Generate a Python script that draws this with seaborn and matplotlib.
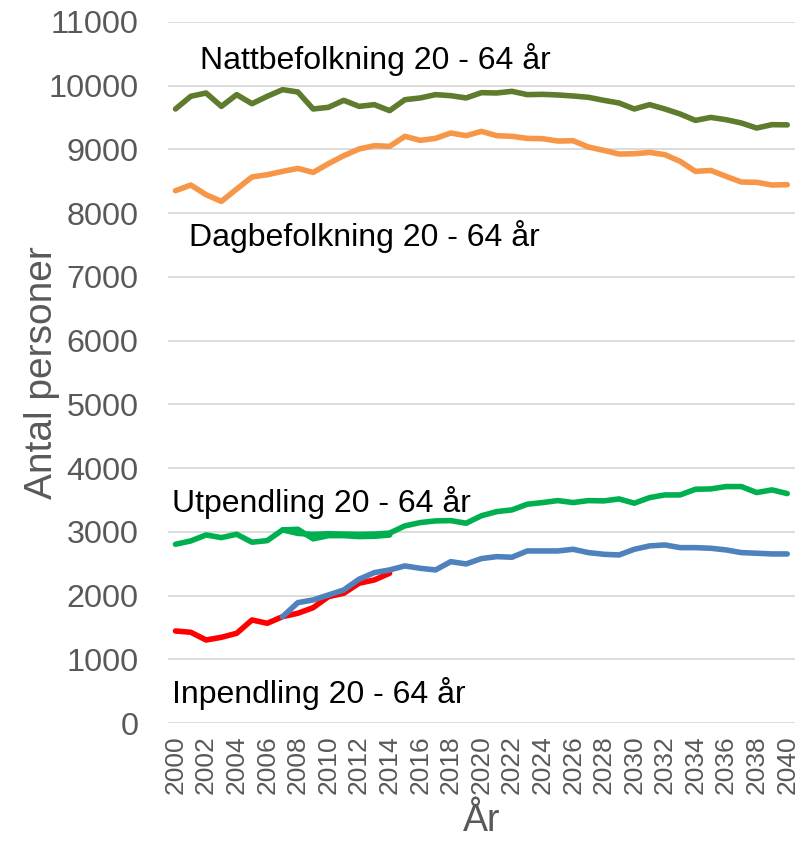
import numpy as np
import pandas as pd
import matplotlib
matplotlib.use("Agg")
import matplotlib.pyplot as plt
import seaborn as sns

# ---- data ----
years_all = list(range(2000, 2041))
years_hist = list(range(2000, 2015))
years_proj = list(range(2007, 2041))

natt = [9634, 9833, 9885, 9675, 9859, 9717, 9833, 9937, 9901, 9634, 9660,
        9770, 9675, 9702, 9608, 9780, 9807, 9859, 9843, 9807, 9890,
        9885, 9911, 9859, 9864, 9854, 9838, 9817, 9770, 9728, 9634,
        9702, 9634, 9555, 9455, 9502, 9466, 9414, 9335, 9388, 9385]
dag = [8352, 8441, 8289, 8184, 8378, 8567, 8603, 8655, 8702, 8639, 8776,
       8901, 9006, 9058, 9048, 9205, 9142, 9173, 9257, 9215, 9283,
       9215, 9205, 9173, 9168, 9131, 9136, 9037, 8985, 8927, 8932,
       8953, 8917, 8812, 8655, 8670, 8577, 8488, 8483, 8441, 8446]
ut_hist = [2805, 2857, 2951, 2909, 2962, 2837, 2862, 3030, 3040, 2890,
           2940, 2940, 2925, 2930, 2950]
ut_proj = [3030, 2975, 2960, 2970, 2965, 2960, 2965, 2980,
           3093, 3145, 3171, 3176, 3135, 3252,
           3317, 3344, 3433, 3459, 3490, 3459, 3490, 3485, 3516, 3449,
           3537, 3579, 3579, 3668, 3673, 3710, 3710, 3616, 3658, 3600]
in_hist = [1444, 1424, 1303, 1345, 1408, 1617, 1565, 1669, 1722, 1810,
           1983, 2036, 2193, 2245, 2350]
in_proj = [1669, 1889, 1931, 2009, 2088, 2256, 2360, 2402,
           2465, 2428, 2402, 2532, 2496, 2580,
           2611, 2601, 2700, 2700, 2700, 2726, 2674, 2648, 2637, 2726,
           2779, 2794, 2752, 2752, 2742, 2716, 2674, 2664, 2653, 2653]

labels = ["Nattbefolkning 20 - 64 år", "Dagbefolkning 20 - 64 år",
          "Utpendling 20 - 64 år", "Inpendling 20 - 64 år"]
yticks = list(range(0, 11001, 1000))
xticks = list(range(2000, 2041, 2))

series = [
    (years_all, natt, "#5E7B2E"),
    (years_all, dag, "#F79646"),
    (years_hist, ut_hist, "#00B050"),
    (years_proj, ut_proj, "#00B050"),
    (years_hist, in_hist, "#FF0000"),
    (years_proj, in_proj, "#4F81BD"),
]

sns.set_theme(style="white")
plt.rcParams['font.family'] = ['Liberation Sans', 'DejaVu Sans']

fig = plt.figure(figsize=(8.07, 8.43), dpi=100)
ax = fig.add_axes([0.208, 0.1423, 0.777, 0.8317])

for xs, ys, col in series:
    df = pd.DataFrame({"x": xs, "y": ys})
    sns.lineplot(data=df, x="x", y="y", ax=ax, color=col, linewidth=4.0,
                 solid_capstyle="round", solid_joinstyle="round")

ax.set_xlim(1999.5, 2040.5)
ax.set_ylim(0, 11000)
ax.set_yticks(yticks)
ax.set_yticklabels([str(v) for v in yticks])
ax.set_xticks(xticks)
ax.set_xticklabels([str(v) for v in xticks], rotation=90)
ax.tick_params(axis='y', labelsize=23.3, colors="#595959", length=0, pad=21)
ax.tick_params(axis='x', labelsize=19, colors="#595959", length=0, pad=9)
ax.yaxis.grid(True, color="#D9D9D9", linewidth=1.3)
ax.set_axisbelow(True)
for s in ax.spines.values():
    s.set_visible(False)

ax.set_ylabel("Antal personer", fontsize=28, color="#595959", labelpad=-8)
ax.set_xlabel("År", fontsize=27, color="#595959", labelpad=6)

ax.text(2001.57, 10408, labels[0], fontsize=23, color="black", va="center", ha="left")
ax.text(2000.85, 7630, labels[1], fontsize=23, color="black", va="center", ha="left")
ax.text(1999.8, 3454, labels[2], fontsize=23, color="black", va="center", ha="left")
ax.text(1999.8, 471, labels[3], fontsize=23, color="black", va="center", ha="left")

fig.savefig("out.png", dpi=100)
